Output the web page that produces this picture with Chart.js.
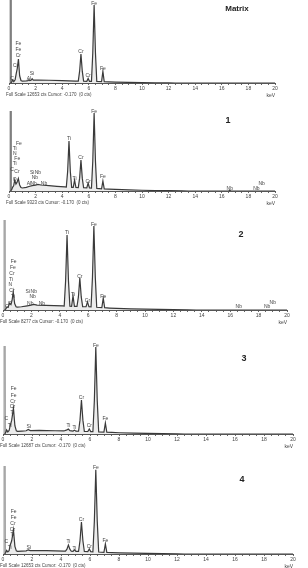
<!DOCTYPE html>
<html>
<head>
<meta charset="utf-8">
<script src="https://cdn.jsdelivr.net/npm/chart.js@4"></script>
<style>
  body { margin: 0; background: #fff; width: 308px; height: 568px; overflow: hidden; position: relative; }
  canvas { position: absolute; left: 0; }
</style>
</head>
<body>
<script>
// EDS spectra: matrix + points 1..4 (keV vs counts)
const panelTitles = ['Matrix', '1', '2', '3', '4'];
const fullScaleCts = [12653, 9323, 8277, 12687, 12653];
const tickLabelsKeV = [0, 2, 4, 6, 8, 10, 12, 14, 16, 18, 20];

// zero-energy noise peak, runs off the top in every spectrum
const noisePeak = [[-0.13, 0], [-0.1, 40000], [0.12, 40000], [0.15, 0]];

const spectrumMatrix = [
  [0.12, 0], [0.2, 120], [0.28, 460], [0.36, 200], [0.46, 500], [0.55, 1500], [0.62, 2200], [0.71, 3660],
  [0.8, 1100], [0.9, 380], [1.0, 280], [1.3, 320], [1.42, 360], [1.49, 480], [1.56, 380], [1.66, 420],
  [1.74, 650], [1.82, 440], [2.2, 460], [3.0, 420], [4.0, 360], [5.0, 300], [5.21, 290], [5.31, 1800],
  [5.41, 4420], [5.51, 1800], [5.61, 280], [5.85, 260], [5.95, 690], [6.05, 260], [6.2, 250], [6.3, 4600],
  [6.4, 11890], [6.5, 4600], [6.6, 230], [6.96, 200], [7.06, 1770], [7.16, 190], [7.5, 160], [8, 130],
  [9, 90], [10, 60], [11, 35], [12, 15], [12.5, 0], [20, 0]
];
const spectrum1 = [
  [0.12, 0], [0.2, 150], [0.28, 450], [0.35, 600], [0.43, 1300], [0.52, 800], [0.6, 1000], [0.7, 1450],
  [0.8, 700], [0.9, 400], [1.0, 350], [1.3, 420], [1.5, 520], [1.74, 620], [2.0, 680], [2.17, 760],
  [2.4, 700], [3.0, 620], [3.6, 540], [4.2, 470], [4.31, 450], [4.41, 2300], [4.51, 5830], [4.61, 2300],
  [4.71, 430], [4.83, 420], [4.93, 1280], [5.03, 420], [5.21, 400], [5.31, 1500], [5.41, 3610], [5.51, 1500],
  [5.61, 380], [5.85, 360], [5.95, 930], [6.05, 360], [6.2, 340], [6.3, 3500], [6.4, 9090], [6.5, 3500],
  [6.6, 300], [6.96, 260], [7.06, 1165], [7.16, 250], [7.5, 220], [8, 180], [9, 130], [10, 90], [11, 60],
  [12, 35], [13, 15], [13.5, 0], [16.5, 0], [16.6, 60], [16.7, 0], [20, 0]
];
const spectrum2 = [
  [0.12, 0], [0.2, 100], [0.28, 280], [0.36, 250], [0.46, 640], [0.56, 500], [0.64, 900], [0.72, 1660],
  [0.82, 600], [0.92, 300], [1.0, 260], [1.3, 300], [1.6, 360], [1.9, 420], [2.17, 520], [2.4, 450],
  [3.0, 430], [3.6, 400], [4.2, 380], [4.31, 360], [4.41, 2700], [4.51, 6900], [4.61, 2700], [4.71, 350],
  [4.83, 340], [4.93, 1290], [5.03, 340], [5.21, 330], [5.31, 1200], [5.41, 2940], [5.51, 1200], [5.61, 310],
  [5.85, 300], [5.95, 740], [6.05, 300], [6.2, 280], [6.3, 3000], [6.4, 7730], [6.5, 3000], [6.6, 250],
  [6.96, 220], [7.06, 1100], [7.16, 210], [7.5, 180], [8, 150], [9, 110], [10, 80], [11, 55], [12, 35],
  [13, 15], [13.6, 0], [20, 0]
];
const spectrum3 = [
  [0.12, 0], [0.18, 200], [0.25, 580], [0.33, 300], [0.42, 500], [0.5, 1200], [0.6, 2000], [0.72, 3740],
  [0.82, 1200], [0.92, 450], [1.0, 380], [1.3, 420], [1.6, 470], [1.74, 650], [1.88, 500], [2.5, 520],
  [3.0, 500], [3.6, 470], [4.2, 440], [4.41, 600], [4.51, 720], [4.61, 480], [4.83, 420], [4.93, 560],
  [5.03, 410], [5.21, 400], [5.31, 2000], [5.41, 4900], [5.51, 2000], [5.61, 380], [5.85, 360], [5.95, 720],
  [6.05, 350], [6.2, 330], [6.3, 4800], [6.4, 12530], [6.5, 4800], [6.6, 300], [6.96, 260], [7.06, 1580],
  [7.16, 250], [7.5, 220], [8, 180], [9, 120], [10, 80], [11, 50], [12, 25], [12.5, 0], [20, 0]
];
const spectrum4 = [
  [0.12, 0], [0.18, 200], [0.25, 520], [0.33, 300], [0.42, 480], [0.5, 1300], [0.6, 1900], [0.72, 3460],
  [0.82, 1100], [0.92, 450], [1.0, 380], [1.3, 420], [1.6, 460], [1.74, 600], [1.88, 480], [2.5, 500],
  [3.0, 480], [3.6, 450], [4.2, 420], [4.31, 410], [4.41, 700], [4.51, 1300], [4.61, 700], [4.71, 400],
  [4.83, 390], [4.93, 600], [5.03, 390], [5.21, 380], [5.31, 1900], [5.41, 4600], [5.51, 1900], [5.61, 360],
  [5.85, 350], [5.95, 720], [6.05, 340], [6.2, 320], [6.3, 4700], [6.4, 12100], [6.5, 4700], [6.6, 290],
  [6.96, 250], [7.06, 1440], [7.16, 240], [7.5, 210], [8, 170], [9, 120], [10, 80], [11, 50], [12, 25],
  [12.5, 0], [20, 0]
];

// element markers: [keV, counts, element]
const peaksMatrix = [
  [6.4, 12040, 'Fe'], [0.7, 5940, 'Fe'], [0.7, 5030, 'Fe'], [0.7, 4110, 'Cr'], [0.5, 2590, 'Cr'],
  [0.23, 610, 'C'], [1.5, 610, 'Al'], [1.73, 1370, 'Si'], [5.41, 4720, 'Cr'], [5.95, 1070, 'Cr'], [7.06, 2130, 'Fe']
];
const peaks1 = [
  [6.4, 9200, 'Fe'], [4.51, 6060, 'Ti'], [4.93, 1400, 'Ti'], [5.41, 3840, 'Cr'], [5.95, 1050, 'Cr'], [7.06, 1630, 'Fe'],
  [0.75, 5480, 'Fe'], [0.43, 4890, 'Ti'], [0.43, 4310, 'N'], [0.62, 3730, 'Fe'], [0.43, 3150, 'Ti'],
  [0.23, 2450, 'C'], [0.6, 2210, 'Cr'], [0.43, 1280, 'O'],
  [1.74, 2100, 'Si'], [2.17, 2100, 'Nb'], [1.95, 1510, 'Nb'], [1.5, 815, 'Al'], [1.85, 815, 'Nb'], [2.63, 815, 'Nb'],
  [16.6, 300, 'Nb'], [18.6, 300, 'Nb'], [19.0, 815, 'Nb']
];
const peaks2 = [
  [6.4, 7820, 'Fe'], [4.51, 7080, 'Ti'], [4.93, 1380, 'Ti'], [5.41, 3040, 'Cr'], [5.95, 830, 'Cr'], [7.06, 1200, 'Fe'],
  [0.75, 4420, 'Fe'], [0.7, 3860, 'Fe'], [0.63, 3310, 'Cr'], [0.56, 2760, 'Ti'], [0.51, 2300, 'N'],
  [0.63, 1750, 'Cr'], [0.7, 1200, 'Ti'], [0.47, 550, 'O'], [0.28, 280, 'C'],
  [1.74, 1660, 'Si'], [2.17, 1660, 'Nb'], [2.09, 1200, 'Nb'], [1.92, 550, 'Nb'], [2.74, 550, 'Nb'],
  [16.6, 280, 'Nb'], [18.6, 280, 'Nb'], [19.0, 640, 'Nb']
];
const peaks3 = [
  [6.4, 12670, 'Fe'], [5.41, 5180, 'Cr'], [5.95, 1150, 'Cr'], [7.06, 2160, 'Fe'], [4.51, 1150, 'Ti'], [4.93, 860, 'Ti'],
  [0.74, 6480, 'Fe'], [0.74, 5470, 'Fe'], [0.69, 4610, 'Cr'], [0.65, 3890, 'Cr'], [0.65, 3020, 'Ti'],
  [0.23, 2160, 'C'], [0.46, 1150, 'Ti'], [1.78, 1010, 'Si']
];
const peaks4 = [
  [6.4, 12380, 'Fe'], [5.41, 4900, 'Cr'], [5.95, 1010, 'Cr'], [7.06, 1870, 'Fe'], [4.51, 1730, 'Ti'], [4.93, 720, 'Ti'],
  [0.74, 6050, 'Fe'], [0.74, 5180, 'Fe'], [0.69, 4320, 'Cr'], [0.65, 3460, 'Cr'], [0.65, 2740, 'Ti'],
  [0.23, 1730, 'C'], [0.46, 860, 'Ti'], [1.78, 860, 'Si']
];

const spectra = [spectrumMatrix, spectrum1, spectrum2, spectrum3, spectrum4];
const peakMarks = [peaksMatrix, peaks1, peaks2, peaks3, peaks4];

// page layout of each plot box (px)
const boxes = [
  { top: 0, bottom: 83, left: 9, right: 275, titleX: 237, titleDy: 9, titleSize: 8 },
  { top: 111, bottom: 191, left: 9, right: 275, titleX: 228, titleDy: 10, titleSize: 9 },
  { top: 220, bottom: 310, left: 3, right: 287, titleX: 241, titleDy: 15, titleSize: 9 },
  { top: 346, bottom: 434, left: 3, right: 293, titleX: 244, titleDy: 13, titleSize: 9 },
  { top: 466, bottom: 554, left: 3, right: 293, titleX: 242, titleDy: 14, titleSize: 9 }
];
const PAD_TOP = 8, AXIS_H = 16;

function textPlugin(i) {
  return {
    id: 'spectrumText' + i,
    afterDatasetsDraw(chart) {
      const { ctx, chartArea, scales: { x, y } } = chart;
      const b = boxes[i];
      ctx.save();
      ctx.fillStyle = '#444';
      ctx.font = '5px Arial';
      ctx.textAlign = 'center';
      ctx.textBaseline = 'middle';
      peakMarks[i].forEach(([kev, cts, el]) => {
        ctx.fillText(el, x.getPixelForValue(kev), y.getPixelForValue(cts));
      });
      ctx.fillStyle = '#222';
      ctx.font = `bold ${b.titleSize}px Arial`;
      ctx.fillText(panelTitles[i], b.titleX, chartArea.top + b.titleDy);
      ctx.fillStyle = '#444';
      ctx.font = '4.5px Arial';
      ctx.textAlign = 'left';
      ctx.fillText(`Full Scale ${fullScaleCts[i]} cts Cursor: -0.170  (0 cts)`, chartArea.left - 3, chartArea.bottom + 12);
      ctx.restore();
    }
  };
}

boxes.forEach((b, i) => {
  const canvas = document.createElement('canvas');
  const h = b.bottom - b.top + PAD_TOP + AXIS_H;
  canvas.width = 308;
  canvas.height = h;
  canvas.style.width = '308px';
  canvas.style.height = h + 'px';
  canvas.style.top = (b.top - PAD_TOP) + 'px';
  document.body.appendChild(canvas);

  new Chart(canvas, {
    type: 'line',
    data: {
      datasets: [
        {
          data: spectra[i].map(([x, y]) => ({ x, y })),
          borderColor: '#3a3a3a',
          borderWidth: 1.2,
          backgroundColor: '#ececec',
          fill: 'origin',
          pointRadius: 0,
          tension: 0
        },
        {
          data: noisePeak.map(([x, y]) => ({ x, y })),
          borderColor: '#777',
          borderWidth: 1,
          backgroundColor: '#cfcfcf',
          fill: 'origin',
          pointRadius: 0,
          tension: 0,
          clip: { left: 5, top: 0, right: 0, bottom: 0 }
        }
      ]
    },
    options: {
      responsive: false,
      animation: false,
      devicePixelRatio: 1,
      layout: { padding: { top: PAD_TOP, left: b.left, right: 308 - b.right, bottom: 0 } },
      plugins: { legend: { display: false }, tooltip: { enabled: false } },
      scales: {
        x: {
          type: 'linear',
          min: 0,
          max: 20,
          afterFit: s => { s.height = AXIS_H; },
          border: { display: true, color: '#555', width: 1 },
          grid: { drawOnChartArea: false, drawTicks: true, tickLength: 2, color: '#666' },
          ticks: {
            stepSize: 0.5,
            autoSkip: false,
            maxRotation: 0,
            padding: 1,
            color: '#444',
            font: { size: 5, family: 'Arial' },
            callback: v => (tickLabelsKeV.includes(v) ? v : '')
          },
          title: { display: true, text: 'keV', align: 'end', color: '#444', font: { size: 5, family: 'Arial' }, padding: 0 }
        },
        y: { display: false, min: 0, max: fullScaleCts[i] }
      }
    },
    plugins: [textPlugin(i)]
  });
});
</script>
</body>
</html>
